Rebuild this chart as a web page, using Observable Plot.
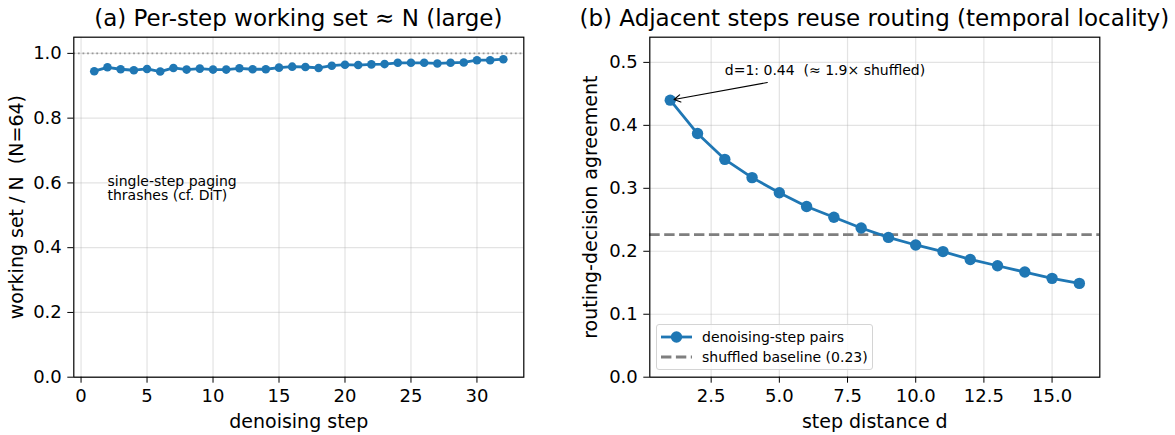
<!DOCTYPE html>
<html>
<head>
<meta charset="utf-8">
<script src="https://cdn.jsdelivr.net/npm/d3@7"></script>
<script src="https://cdn.jsdelivr.net/npm/@observablehq/plot@0.6"></script>
<style>
  html, body { margin: 0; padding: 0; background: #fff; }
  #fig { position: relative; width: 1175px; height: 435px; font-family: "DejaVu Sans", sans-serif; color: #000; overflow: hidden; }
  #fig svg { position: absolute; top: 0; font-family: "DejaVu Sans", sans-serif; overflow: visible; }
  .title { position: absolute; font-size: 23px; line-height: 23px; white-space: nowrap; transform: translateX(-50%); }
  .legend { position: absolute; left: 656px; top: 324px; width: 215px; height: 44px; border: 1px solid #d4d4d4; border-radius: 3px; background: rgba(255,255,255,0.8); font-size: 14px; }
  .legend .row { position: absolute; left: 0; height: 20px; line-height: 20px; white-space: nowrap; }
  .legend svg { position: absolute !important; left: 4px; top: 0; }
  .legend span { position: absolute; left: 45px; top: 0; }
</style>
</head>
<body>
<div id="fig"></div>
<script>
// ---------- data ----------
const stepsA = [1,2,3,4,5,6,7,8,9,10,11,12,13,14,15,16,17,18,19,20,21,22,23,24,25,26,27,28,29,30,31,32];
const workingSet = [0.945,0.957,0.951,0.948,0.952,0.944,0.955,0.950,0.953,0.950,0.950,0.954,0.951,0.951,0.956,0.959,0.958,0.955,0.962,0.965,0.964,0.966,0.967,0.971,0.971,0.971,0.969,0.971,0.972,0.979,0.979,0.982];
const refLineA = [1.0];
const xTicksA = [0,5,10,15,20,25,30];
const yTicksA = [0,0.2,0.4,0.6,0.8,1.0];

const distances = [1,2,3,4,5,6,7,8,9,10,11,12,13,14,15,16];
const agreement = [0.440,0.387,0.346,0.317,0.293,0.271,0.254,0.237,0.222,0.210,0.1995,0.187,0.177,0.167,0.157,0.149];
const shuffledBaseline = [0.2265];
const xTicksB = [2.5,5.0,7.5,10.0,12.5,15.0];
const yTicksB = [0,0.1,0.2,0.3,0.4,0.5];

const titles = ["(a) Per-step working set \u2248 N (large)", "(b) Adjacent steps reuse routing (temporal locality)"];
const yLabels = ["working set / N  (N=64)", "routing-decision agreement"];
const xLabels = ["denoising step", "step distance d"];
const noteA = [{x: 2, y: 0.584, text: "single-step paging\nthrashes (cf. DiT)"}];
const noteB = [{x: 3, y: 0.487, text: "d=1: 0.44  (\u2248 1.9\u00d7 shuffled)"}];
const arrowB = [{x1: 4.56, y1: 0.468, x2: 1.14, y2: 0.441}];
const legendLabels = ["denoising-step pairs", "shuffled baseline (0.23)"];

const blue = "#1f77b4";
const fig = document.getElementById("fig");
const fmt1 = d3.format(".1f");

const dataA = stepsA.map((s, i) => ({s, v: workingSet[i]}));
const dataB = distances.map((d, i) => ({d, v: agreement[i]}));

const gridStyle = {stroke: "#b0b0b0", strokeOpacity: 0.35, strokeWidth: 1.2};

// ---------- panel (a) ----------
const plotA = Plot.plot({
  width: 560, height: 435,
  marginLeft: 73.3, marginRight: 36.7, marginTop: 36.7, marginBottom: 58.3,
  style: {fontFamily: "DejaVu Sans", color: "#000", background: "transparent", overflow: "visible"},
  x: {domain: [-0.55, 33.55]},
  y: {domain: [0, 1.05]},
  marks: [
    Plot.gridX(xTicksA, gridStyle),
    Plot.gridY(yTicksA, gridStyle),
    Plot.ruleY(refLineA, {stroke: "#999999", strokeWidth: 1.8, strokeDasharray: "1.8,2.8"}),
    Plot.line(dataA, {x: "s", y: "v", stroke: blue, strokeWidth: 2.8}),
    Plot.dot(dataA, {x: "s", y: "v", fill: blue, r: 4.3}),
    Plot.text(noteA, {x: "x", y: "y", text: "text", textAnchor: "start", lineAnchor: "middle", fontSize: 14, lineHeight: 1.0, fill: "#000"}),
    Plot.frame({stroke: "#000", strokeWidth: 1.2}),
    Plot.axisX({ticks: xTicksA, tickFormat: d => String(d), tickSize: 6, tickPadding: 6, fontSize: 18, label: null}),
    Plot.axisY({ticks: yTicksA, tickFormat: fmt1, tickSize: 6, tickPadding: 6, fontSize: 18, label: null}),
    Plot.text([xLabels[0]], {frameAnchor: "bottom", dy: 45, text: d => d, fontSize: 19, lineAnchor: "middle", textAnchor: "middle"}),
    Plot.text([yLabels[0]], {frameAnchor: "left", dx: -57, rotate: -90, text: d => d, fontSize: 19, lineAnchor: "middle", textAnchor: "middle"})
  ]
});
plotA.style.left = "0px";
fig.appendChild(plotA);

// ---------- panel (b) ----------
const plotB = Plot.plot({
  width: 615, height: 435,
  marginLeft: 89.3, marginRight: 75.7, marginTop: 36.7, marginBottom: 58.3,
  style: {fontFamily: "DejaVu Sans", color: "#000", background: "transparent", overflow: "visible"},
  x: {domain: [0.25, 16.75]},
  y: {domain: [0, 0.54]},
  marks: [
    Plot.gridX(xTicksB, gridStyle),
    Plot.gridY(yTicksB, gridStyle),
    Plot.ruleY(shuffledBaseline, {stroke: "#7f7f7f", strokeWidth: 2.8, strokeDasharray: "10.4,4.5"}),
    Plot.line(dataB, {x: "d", y: "v", stroke: blue, strokeWidth: 2.8}),
    Plot.dot(dataB, {x: "d", y: "v", fill: blue, r: 5.7}),
    Plot.arrow(arrowB, {x1: "x1", y1: "y1", x2: "x2", y2: "y2", stroke: "#000", strokeWidth: 1.2, headLength: 9}),
    Plot.text(noteB, {x: "x", y: "y", text: "text", textAnchor: "start", lineAnchor: "middle", fontSize: 14, fill: "#000"}),
    Plot.frame({stroke: "#000", strokeWidth: 1.2}),
    Plot.axisX({ticks: xTicksB, tickFormat: fmt1, tickSize: 6, tickPadding: 6, fontSize: 18, label: null}),
    Plot.axisY({ticks: yTicksB, tickFormat: fmt1, tickSize: 6, tickPadding: 6, fontSize: 18, label: null}),
    Plot.text([xLabels[1]], {frameAnchor: "bottom", dy: 45, text: d => d, fontSize: 19, lineAnchor: "middle", textAnchor: "middle"}),
    Plot.text([yLabels[1]], {frameAnchor: "left", dx: -59, rotate: -90, text: d => d, fontSize: 19, lineAnchor: "middle", textAnchor: "middle"})
  ]
});
plotB.style.left = "560px";
fig.appendChild(plotB);

// ---------- titles ----------
[[298.3, titles[0]], [874.3, titles[1]]].forEach(([cx, t]) => {
  const div = document.createElement("div");
  div.className = "title";
  div.style.left = cx + "px";
  div.style.top = "7px";
  div.textContent = t;
  fig.appendChild(div);
});

// ---------- legend ----------
const legend = document.createElement("div");
legend.className = "legend";
legend.innerHTML =
  `<div class="row" style="top:1.5px"><svg width="32" height="20"><line x1="0" y1="10" x2="31" y2="10" stroke="${blue}" stroke-width="2.8"/><circle cx="15.5" cy="10" r="5.7" fill="${blue}"/></svg><span>${legendLabels[0]}</span></div>` +
  `<div class="row" style="top:21.5px"><svg width="32" height="20"><line x1="0" y1="10" x2="31" y2="10" stroke="#7f7f7f" stroke-width="2.8" stroke-dasharray="10.4,4.5"/></svg><span>${legendLabels[1]}</span></div>`;
fig.appendChild(legend);
</script>
</body>
</html>
